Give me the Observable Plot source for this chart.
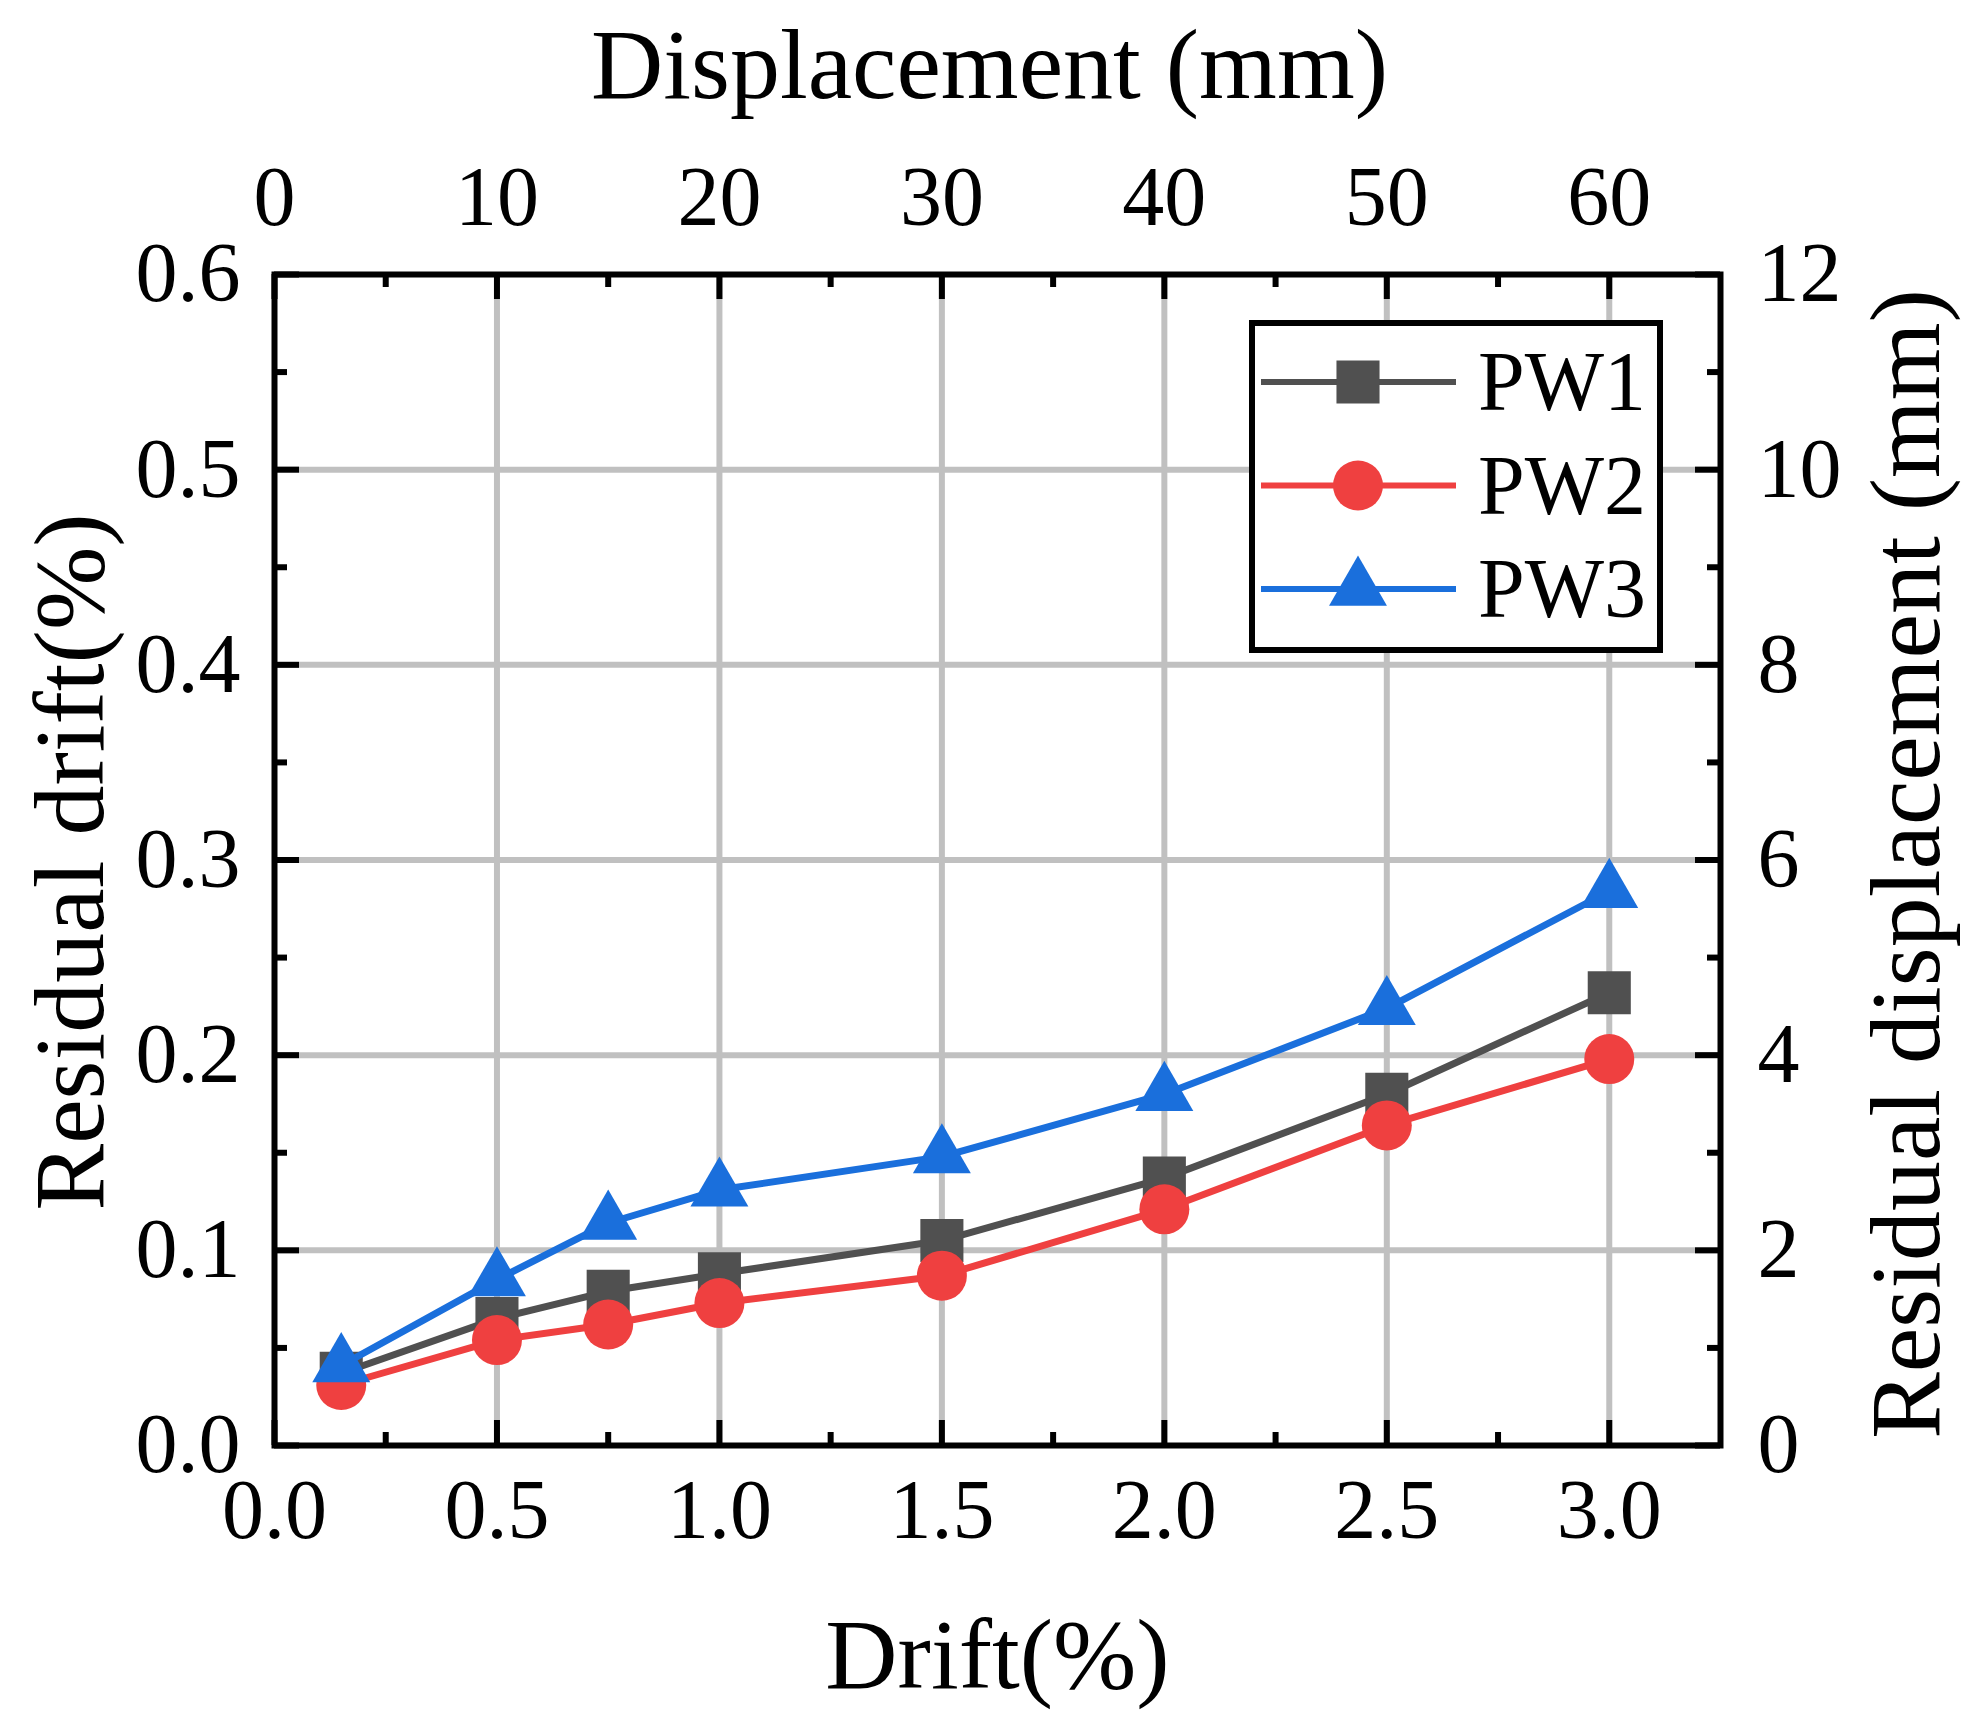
<!DOCTYPE html>
<html><head><meta charset="utf-8">
<script src="https://cdn.jsdelivr.net/npm/d3@7"></script>
<script src="https://cdn.jsdelivr.net/npm/@observablehq/plot@0.6"></script>
<style>html,body{margin:0;padding:0;background:#fff}</style>
</head><body><div id="chart"></div>
<script>
// ---- data ----
const drift = [0.15, 0.5, 0.75, 1.0, 1.5, 2.0, 2.5, 3.0];
const pw1 = [0.037, 0.065, 0.079, 0.088, 0.105, 0.137, 0.180, 0.232];
const pw2 = [0.031, 0.054, 0.062, 0.073, 0.087, 0.121, 0.164, 0.198];
const pw3 = [0.041, 0.085, 0.114, 0.131, 0.148, 0.180, 0.224, 0.284];
const seriesNames = ["PW1", "PW2", "PW3"];
const seriesColors = ["#505050", "#ef4040", "#1a6fdc"];
const seriesSymbols = ["square", "circle", "triangle"];
const seriesR = [24.3, 25, 21.5];

const xTicks = [0, 0.5, 1.0, 1.5, 2.0, 2.5, 3.0];
const xMinorTicks = [0.25, 0.75, 1.25, 1.75, 2.25, 2.75];
const xTickLabels = ["0.0", "0.5", "1.0", "1.5", "2.0", "2.5", "3.0"];
const topTickLabels = ["0", "10", "20", "30", "40", "50", "60"];
const yTicks = [0, 0.1, 0.2, 0.3, 0.4, 0.5, 0.6];
const yMinorTicks = [0.05, 0.15, 0.25, 0.35, 0.45, 0.55];
const yTickLabels = ["0.0", "0.1", "0.2", "0.3", "0.4", "0.5", "0.6"];
const rightTickLabels = ["0", "2", "4", "6", "8", "10", "12"];
const xGrid = [0.5, 1.0, 1.5, 2.0, 2.5, 3.0];
const yGrid = [0.1, 0.2, 0.3, 0.4, 0.5];

const xLabel = "Drift(%)";
const topLabel = "Displacement (mm)";
const yLabel = "Residual drift(%)";
const rightLabel = "Residual displacement (mm)";

// ---- layout ----
const W = 1982, H = 1728;
const mL = 274, mR = 262, mT = 274, mB = 283;
const plotW = W - mL - mR, plotH = H - mT - mB;
const majorLen = 25, minorLen = 13;
const tickFont = 84, titleFont = 100;
const FONT = "'Liberation Serif', 'Times New Roman', serif";

const allValues = [pw1, pw2, pw3];
const rows = seriesNames.flatMap((s, k) => drift.map((d, i) => ({series: s, drift: d, value: allValues[k][i]})));

const seriesMarks = seriesNames.flatMap((s, k) => {
  const data = rows.filter(r => r.series === s);
  return [
    Plot.line(data, {x: "drift", y: "value", stroke: seriesColors[k], strokeWidth: 7}),
    Plot.dot(data, {x: "drift", y: "value", symbol: seriesSymbols[k], r: seriesR[k], fill: seriesColors[k], stroke: "none"})
  ];
});

const tickStyle = {stroke: "black", strokeWidth: 6};

const plot = Plot.plot({
  width: W, height: H,
  marginLeft: mL, marginRight: mR, marginTop: mT, marginBottom: mB,
  style: {fontFamily: FONT, background: "white", color: "black"},
  x: {domain: [0, 3.25], axis: null},
  y: {domain: [0, 0.6], axis: null},
  marks: [
    Plot.ruleX(xGrid, {x: d => d, stroke: "#c0c0c0", strokeWidth: 6}),
    Plot.ruleY(yGrid, {y: d => d, stroke: "#c0c0c0", strokeWidth: 6}),
    // ticks (inward), all four sides
    Plot.ruleX(xTicks, {x: d => d, insetTop: plotH - majorLen, ...tickStyle}),
    Plot.ruleX(xMinorTicks, {x: d => d, insetTop: plotH - minorLen, ...tickStyle}),
    Plot.ruleX(xTicks, {x: d => d, insetBottom: plotH - majorLen, ...tickStyle}),
    Plot.ruleX(xMinorTicks, {x: d => d, insetBottom: plotH - minorLen, ...tickStyle}),
    Plot.ruleY(yTicks, {y: d => d, insetRight: plotW - majorLen, ...tickStyle}),
    Plot.ruleY(yMinorTicks, {y: d => d, insetRight: plotW - minorLen, ...tickStyle}),
    Plot.ruleY(yTicks, {y: d => d, insetLeft: plotW - majorLen, ...tickStyle}),
    Plot.ruleY(yMinorTicks, {y: d => d, insetLeft: plotW - minorLen, ...tickStyle}),
    ...seriesMarks,
    Plot.frame({stroke: "black", strokeWidth: 6}),
    // tick labels
    Plot.text(xTicks, {x: d => d, frameAnchor: "bottom", text: (d, i) => xTickLabels[i], dy: 92, lineAnchor: "bottom", textAnchor: "middle", fontSize: tickFont, fill: "black"}),
    Plot.text(xTicks, {x: d => d, frameAnchor: "top", text: (d, i) => topTickLabels[i], dy: -50, lineAnchor: "bottom", textAnchor: "middle", fontSize: tickFont, fill: "black"}),
    Plot.text(yTicks, {y: d => d, frameAnchor: "left", text: (d, i) => yTickLabels[i], dx: -34, lineAnchor: "middle", textAnchor: "end", fontSize: tickFont, fill: "black"}),
    Plot.text(yTicks, {y: d => d, frameAnchor: "right", text: (d, i) => rightTickLabels[i], dx: 37, lineAnchor: "middle", textAnchor: "start", fontSize: tickFont, fill: "black"}),
    // titles
    Plot.text([xLabel], {frameAnchor: "bottom", text: d => d, dy: 242, lineAnchor: "bottom", textAnchor: "middle", fontSize: titleFont, fill: "black"}),
    Plot.text([topLabel], {frameAnchor: "top", text: d => d, dy: -177, dx: -8, lineAnchor: "bottom", textAnchor: "middle", fontSize: titleFont, fill: "black"}),
    Plot.text([yLabel], {frameAnchor: "left", text: d => d, rotate: -90, dx: -172, dy: 2, lineAnchor: "bottom", textAnchor: "middle", fontSize: titleFont, fill: "black"}),
    Plot.text([rightLabel], {frameAnchor: "right", text: d => d, rotate: -90, dx: 218, dy: 4, lineAnchor: "bottom", textAnchor: "middle", fontSize: titleFont, fill: "black"})
  ]
});

// ---- legend (inside frame, top-right) ----
const xr = plot.scale("x").range, yr = plot.scale("y").range;
const R = Math.max(...xr), T = Math.min(...yr);
const svg = d3.select(plot);
const lg = svg.append("g").attr("class", "legend").attr("text-anchor", "start");
lg.append("rect")
  .attr("x", R - 468).attr("y", T + 49)
  .attr("width", 408).attr("height", 327)
  .attr("fill", "white").attr("stroke", "black").attr("stroke-width", 6);
const symMap = {square: d3.symbolSquare, circle: d3.symbolCircle, triangle: d3.symbolTriangle};
seriesNames.forEach((s, k) => {
  const cy = T + 108 + k * 103.5;
  lg.append("line")
    .attr("x1", R - 459).attr("x2", R - 264).attr("y1", cy).attr("y2", cy)
    .attr("stroke", seriesColors[k]).attr("stroke-width", 6);
  lg.append("path")
    .attr("transform", `translate(${R - 362},${cy})`)
    .attr("d", d3.symbol(symMap[seriesSymbols[k]], seriesR[k] * seriesR[k] * Math.PI)())
    .attr("fill", seriesColors[k]);
  lg.append("text")
    .attr("x", R - 242).attr("y", cy + 28)
    .attr("text-anchor", "start")
    .attr("font-size", tickFont).attr("font-family", FONT).attr("fill", "black")
    .text(s);
});

document.getElementById("chart").appendChild(plot);
</script>
</body></html>
